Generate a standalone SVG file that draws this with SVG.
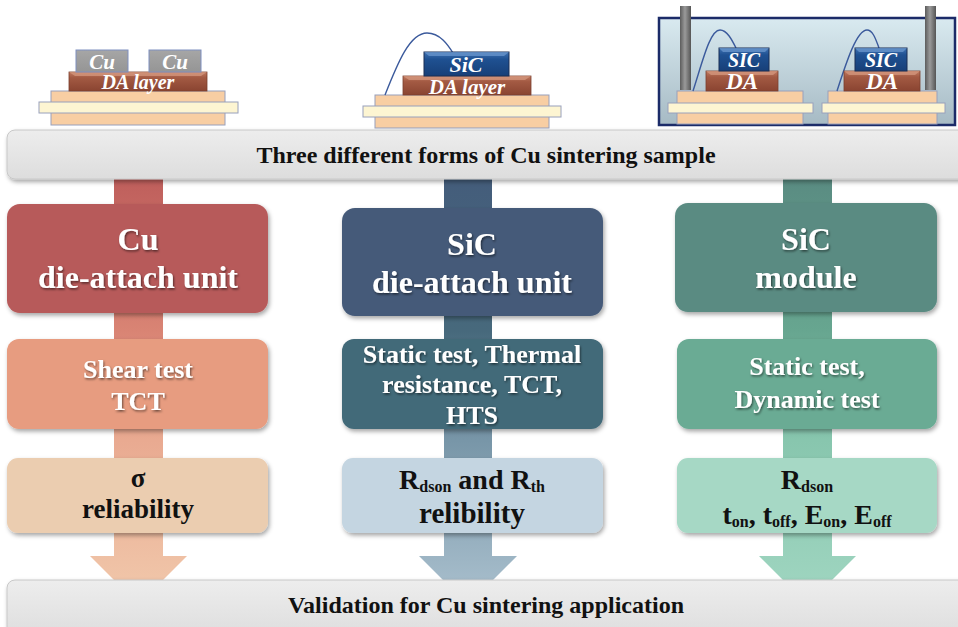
<svg xmlns="http://www.w3.org/2000/svg" width="958" height="627" viewBox="0 0 958 627">
<defs>
  <filter id="boxShadow" x="-10%" y="-10%" width="125%" height="130%">
    <feDropShadow dx="1.5" dy="2.5" stdDeviation="2" flood-color="#000" flood-opacity="0.35"/>
  </filter>
  <filter id="txtShadow" x="-10%" y="-20%" width="120%" height="150%">
    <feDropShadow dx="1" dy="1.5" stdDeviation="0.9" flood-color="#000" flood-opacity="0.55"/>
  </filter>
  <linearGradient id="bannerFill" x1="0" y1="0" x2="0" y2="1">
    <stop offset="0" stop-color="#ededed"/>
    <stop offset="1" stop-color="#dddddd"/>
  </linearGradient>
  <linearGradient id="stem1" x1="0" y1="180" x2="0" y2="600" gradientUnits="userSpaceOnUse">
    <stop offset="0" stop-color="#bf5f5c"/>
    <stop offset="0.36" stop-color="#d98474"/>
    <stop offset="0.62" stop-color="#e9aa91"/>
    <stop offset="1" stop-color="#f1c8ab"/>
  </linearGradient>
  <linearGradient id="stem2" x1="0" y1="180" x2="0" y2="600" gradientUnits="userSpaceOnUse">
    <stop offset="0" stop-color="#445d7b"/>
    <stop offset="0.36" stop-color="#47697c"/>
    <stop offset="0.62" stop-color="#7896a8"/>
    <stop offset="1" stop-color="#aac0ce"/>
  </linearGradient>
  <linearGradient id="stem3" x1="0" y1="180" x2="0" y2="600" gradientUnits="userSpaceOnUse">
    <stop offset="0" stop-color="#5a8c82"/>
    <stop offset="0.36" stop-color="#67a690"/>
    <stop offset="0.62" stop-color="#88c6ae"/>
    <stop offset="1" stop-color="#a0d6c1"/>
  </linearGradient>
  <linearGradient id="daFill" x1="0" y1="0" x2="0" y2="1">
    <stop offset="0" stop-color="#c07a60"/>
    <stop offset="0.3" stop-color="#a35a43"/>
    <stop offset="1" stop-color="#8a4431"/>
  </linearGradient>
  <linearGradient id="sicFill" x1="0" y1="0" x2="0" y2="1">
    <stop offset="0" stop-color="#3f72b2"/>
    <stop offset="0.3" stop-color="#1f5192"/>
    <stop offset="1" stop-color="#173f78"/>
  </linearGradient>
  <linearGradient id="cuFill" x1="0" y1="0" x2="0" y2="1">
    <stop offset="0" stop-color="#a6a6a6"/>
    <stop offset="1" stop-color="#959595"/>
  </linearGradient>
  <linearGradient id="moduleFill" x1="0" y1="0" x2="0" y2="1">
    <stop offset="0" stop-color="#d9eaf0"/>
    <stop offset="1" stop-color="#a6bac4"/>
  </linearGradient>
  <linearGradient id="pinFill" x1="0" y1="0" x2="1" y2="0">
    <stop offset="0" stop-color="#5c5c5c"/>
    <stop offset="0.45" stop-color="#9a9a9a"/>
    <stop offset="1" stop-color="#555555"/>
  </linearGradient>
  <style>
    text { font-family: 'Liberation Serif', 'Times New Roman', serif; font-weight: bold; }
    .banner { fill: url(#bannerFill); stroke: #c8c8c8; stroke-width: 1; }
    .bannerText { font-size: 24px; fill: #111; text-anchor: middle; }
    .box { filter: url(#boxShadow); }
    .w { fill: #fff; text-anchor: middle; filter: url(#txtShadow); }
    .k { fill: #111; text-anchor: middle; }
    .lbl { font-style: italic; fill: #fff; text-anchor: middle; }
    .sub { stroke: #98a0bc; stroke-width: 1; }
    .peach { fill: #f8cea3; }
    .cream { fill: #fdf5d2; }
    .wire { fill: none; stroke: #3b5a9c; stroke-width: 1.4; }
    .da { fill: url(#daFill); stroke: #7a3f2e; stroke-width: 0.8; }
    .sic { fill: url(#sicFill); stroke: #1a2f55; stroke-width: 1; }
  </style>
</defs>

<rect width="958" height="627" fill="#ffffff"/>

<!-- Connectors: vertical flow arrows behind the boxes -->
<g id="connectors">
  <path d="M114,176 H163 V556 H187 L138.5,604.5 L90,556 H114 Z" fill="url(#stem1)"/>
  <path d="M444,176 H492 V556 H517 L468,605 L419,556 H444 Z" fill="url(#stem2)"/>
  <path d="M783,176 H832 V556 H856 L807.5,604.5 L759,556 H783 Z" fill="url(#stem3)"/>
</g>

<!-- Sample 1: Cu dies on DA layer -->
<g id="sample-cu">
  <rect class="peach sub" x="51" y="91" width="174" height="34"/>
  <rect class="cream sub" x="39" y="102" width="199" height="11"/>
  <rect class="da" x="69" y="72" width="138" height="19"/>
  <path d="M69,72 H207 L201,76 H75 Z" fill="#d79b82" opacity="0.7"/>
  <rect x="76" y="50" width="52" height="22" fill="url(#cuFill)" stroke="#7f8fc0" stroke-width="1"/>
  <rect x="149" y="50" width="52" height="22" fill="url(#cuFill)" stroke="#7f8fc0" stroke-width="1"/>
  <text class="lbl" x="102" y="69" font-size="21">Cu</text>
  <text class="lbl" x="175" y="69" font-size="21">Cu</text>
  <text class="lbl" x="138" y="89" font-size="20">DA layer</text>
</g>

<!-- Sample 2: SiC die on DA layer with bond wire -->
<g id="sample-sic-die">
  <rect class="peach sub" x="375" y="95" width="174" height="33"/>
  <rect class="cream sub" x="363" y="106" width="198" height="11"/>
  <path class="wire" d="M385,95 C398,62 410,33 427,33 C440,33 448,45 453,53"/>
  <rect class="da" x="403" y="76" width="128" height="19"/>
  <path d="M403,76 H531 L525,80 H409 Z" fill="#d79b82" opacity="0.7"/>
  <rect class="sic" x="424" y="52" width="85" height="24"/>
  <path d="M424,52 H509 L504,56 H429 Z" fill="#6e9ad0" opacity="0.7"/>
  <text class="lbl" x="466" y="72" font-size="22">SiC</text>
  <text class="lbl" x="467" y="94" font-size="21">DA layer</text>
</g>

<!-- Sample 3: SiC power module -->
<g id="sample-module">
  <rect x="659" y="18" width="296" height="107" fill="url(#moduleFill)" stroke="#1b2b68" stroke-width="2.5"/>
  <rect x="680" y="6" width="11" height="84" fill="url(#pinFill)"/>
  <rect x="925" y="6" width="11" height="84" fill="url(#pinFill)"/>
  <!-- left die stack -->
  <rect class="peach sub" x="677" y="91" width="126" height="33"/>
  <rect class="cream sub" x="668" y="103" width="145" height="10"/>
  <path class="wire" d="M693,91 C703,60 710,30 720,30 C727,30 732,40 736,48"/>
  <rect class="da" x="706" y="71" width="72" height="20"/>
  <path d="M706,71 H778 L773,75 H711 Z" fill="#d79b82" opacity="0.7"/>
  <rect class="sic" x="719" y="48" width="50" height="23"/>
  <path d="M719,48 H769 L765,52 H723 Z" fill="#6e9ad0" opacity="0.7"/>
  <text class="lbl" x="744" y="67" font-size="20">SIC</text>
  <text class="lbl" x="742" y="89" font-size="23">DA</text>
  <!-- right die stack -->
  <rect class="peach sub" x="828" y="91" width="109" height="33"/>
  <rect class="cream sub" x="822" y="103" width="123" height="10"/>
  <path class="wire" d="M837,91 C847,60 857,30 867,30 C873,30 876,40 879,48"/>
  <rect class="da" x="844" y="71" width="76" height="20"/>
  <path d="M844,71 H920 L915,75 H849 Z" fill="#d79b82" opacity="0.7"/>
  <rect class="sic" x="855" y="48" width="52" height="23"/>
  <path d="M855,48 H907 L903,52 H859 Z" fill="#6e9ad0" opacity="0.7"/>
  <text class="lbl" x="881" y="67" font-size="20">SIC</text>
  <text class="lbl" x="882" y="89" font-size="23">DA</text>
</g>

<!-- Header banner -->
<g id="banner-top">
  <rect class="banner box" x="7" y="130" width="965" height="49" rx="8"/>
  <text class="bannerText" x="486" y="163">Three different forms of Cu sintering sample</text>
</g>

<!-- Column 1: Cu die-attach unit -->
<g id="cu-unit">
  <rect class="box" x="7" y="204" width="261" height="109" rx="13" fill="#b75a5a"/>
  <text class="w" font-size="32" x="138" y="250">Cu</text>
  <text class="w" font-size="32" x="138" y="288">die-attach unit</text>
</g>
<g id="cu-tests">
  <rect class="box" x="7" y="339" width="261" height="90" rx="12" fill="#e79c80"/>
  <text class="w" font-size="26" x="138" y="378">Shear test</text>
  <text class="w" font-size="26" x="138" y="410">TCT</text>
</g>
<g id="cu-result">
  <rect class="box" x="7" y="458" width="261" height="75" rx="11" fill="#ebcdb0"/>
  <text class="k" font-size="27" x="138" y="487">σ</text>
  <text class="k" font-size="27" x="138" y="518">reliability</text>
</g>

<!-- Column 2: SiC die-attach unit -->
<g id="sic-unit">
  <rect class="box" x="342" y="208" width="261" height="108" rx="13" fill="#455a79"/>
  <text class="w" font-size="32" x="472" y="255">SiC</text>
  <text class="w" font-size="32" x="472" y="293">die-attach unit</text>
</g>
<g id="sic-tests">
  <rect class="box" x="342" y="339" width="261" height="90" rx="12" fill="#436a79"/>
  <text class="w" font-size="26" x="472" y="363">Static test, Thermal</text>
  <text class="w" font-size="26" x="472" y="393">resistance, TCT,</text>
  <text class="w" font-size="26" x="472" y="424">HTS</text>
</g>
<g id="sic-result">
  <rect class="box" x="342" y="458" width="261" height="75" rx="11" fill="#c4d5e1"/>
  <text class="k" font-size="28" x="472" y="489">R<tspan font-size="16" dy="3">dson</tspan><tspan dy="-3"> and R</tspan><tspan font-size="16" dy="3">th</tspan></text>
  <text class="k" font-size="29" x="472" y="523">relibility</text>
</g>

<!-- Column 3: SiC module -->
<g id="module-unit">
  <rect class="box" x="675" y="203" width="262" height="109" rx="13" fill="#5a8b82"/>
  <text class="w" font-size="32" x="806" y="250">SiC</text>
  <text class="w" font-size="32" x="806" y="288">module</text>
</g>
<g id="module-tests">
  <rect class="box" x="677" y="339" width="260" height="90" rx="12" fill="#6aab94"/>
  <text class="w" font-size="26" x="807" y="375">Static test,</text>
  <text class="w" font-size="26" x="807" y="408">Dynamic test</text>
</g>
<g id="module-result">
  <rect class="box" x="677" y="458" width="260" height="75" rx="11" fill="#a6d8c5"/>
  <text class="k" font-size="28" x="807" y="489">R<tspan font-size="16" dy="3">dson</tspan></text>
  <text class="k" font-size="28" x="807" y="524">t<tspan font-size="16" dy="3">on</tspan><tspan dy="-3">, t</tspan><tspan font-size="16" dy="3">off</tspan><tspan dy="-3">, E</tspan><tspan font-size="16" dy="3">on</tspan><tspan dy="-3">, E</tspan><tspan font-size="16" dy="3">off</tspan></text>
</g>

<!-- Footer banner -->
<g id="banner-bottom">
  <rect class="banner box" x="7" y="580" width="965" height="60" rx="8"/>
  <text class="bannerText" x="486" y="613">Validation for Cu sintering application</text>
</g>
</svg>
